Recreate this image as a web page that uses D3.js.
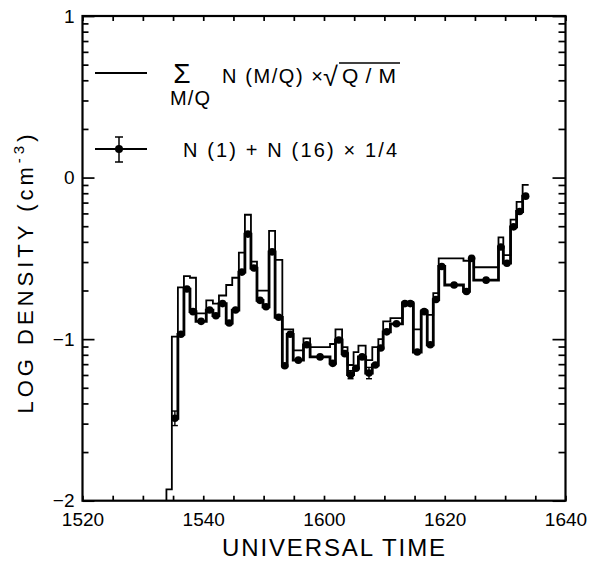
<!DOCTYPE html>
<html>
<head>
<meta charset="utf-8">
<script src="https://cdnjs.cloudflare.com/ajax/libs/d3/7.8.5/d3.min.js"></script>
<style>
  body { margin: 0; background: #fff; }
  svg text { font-family: "Liberation Sans", Arial, sans-serif; fill: #000; }
</style>
</head>
<body>
<script>
// time is in minutes after 15:00 UT (20 -> 1520, 100 -> 1640)
const xDomain = [20, 100];
const yDomain = [-2, 1];
const xTickLabels = [20, 40, 60, 80, 100];
const yTickLabels = [-2, -1, 0, 1];

// bin edges of the histogram steps (minutes after 15:00)
const binEdges = [33.9, 34.8, 35.8, 36.8, 37.8, 38.8, 40.5, 41.6, 42.6, 43.8,
  44.8, 45.9, 46.9, 47.9, 48.9, 49.9, 50.9, 51.9, 53.1, 53.9,
  54.9, 56.6, 57.7, 61.0, 61.9, 63.0, 63.9, 64.9, 65.7, 66.9,
  68.0, 69.0, 69.8, 71.0, 73.0, 73.8, 74.8, 76.1, 77.1, 78.1,
  79.0, 80.0, 83.1, 84.1, 84.8, 88.9, 89.7, 90.9, 91.9, 92.9, 93.9];

// log density, sum over M/Q of N(M/Q) x sqrt(Q/M)
const sumDensity = [-1.93, -0.985, -0.68, -0.61, -0.62, -0.84, -0.76, -0.78, -0.73, -0.665,
  -0.62, -0.465, -0.23, -0.52, -0.70, -0.70, -0.33, -0.51, -0.94, -0.94,
  -1.07, -0.995, -1.05, -1.03, -0.94, -1.05, -1.16, -1.08, -1.04, -1.13,
  -1.05, -1.0, -0.89, -0.87, -0.77, -0.77, -0.94, -0.82, -0.85, -0.715,
  -0.50, -0.50, -0.515, -0.50, -0.555, -0.37, -0.48, -0.26, -0.15, -0.045];

// log density, N(1) + N(16) x 1/4
const h1o16Density = [null, -1.49, -0.97, -0.69, -0.83, -0.89, -0.82, -0.855, -0.78, -0.90,
  -0.82, -0.585, -0.35, -0.56, -0.76, -0.80, -0.46, -0.865, -1.165, -0.97,
  -1.13, -1.035, -1.11, -1.15, -1.005, -1.09, -1.22, -1.18, -1.11, -1.21,
  -1.16, -1.055, -0.955, -0.905, -0.78, -0.78, -1.08, -0.83, -1.035, -0.755,
  -0.55, -0.665, -0.705, -0.50, -0.635, -0.43, -0.53, -0.305, -0.21, -0.115];

// error bars on a few of the points (bin index, half size in log units)
const errBin = [1, 26, 29];
const errHalf = [0.045, 0.025, 0.035];

const W = 592, H = 563;
const svg = d3.select('body').append('svg').attr('width', W).attr('height', H);

const x = d3.scaleLinear().domain(xDomain).range([82.5, 565.5]);
const y = d3.scaleLinear().domain(yDomain).range([500.7, 16]);

const hhmm = m => `${15 + Math.floor(m / 60)}${String(m % 60).padStart(2, '0')}`;

/*********************************************************/
// Axes (ticks point inward, frame drawn separately)

const minorY = [];
for (let dec = -2; dec < 1; dec++) {
  for (let k = 2; k <= 9; k++) minorY.push(dec + Math.log10(k));
}

const axisStyle = g => {
  g.select('.domain').remove();
  g.selectAll('line').attr('stroke', '#000').attr('stroke-width', 1.7);
  g.selectAll('text').style('font-size', '19px');
};

svg.append('g').attr('transform', `translate(0,${y(-2)})`)
  .call(d3.axisBottom(x).tickValues(d3.range(20, 101, 5)).tickSize(-5).tickPadding(12)
    .tickFormat(d => xTickLabels.includes(d) ? hhmm(d) : ''))
  .call(axisStyle);

svg.append('g').attr('transform', `translate(0,${y(1)})`)
  .call(d3.axisTop(x).tickValues(d3.range(20, 101, 5)).tickSize(-5).tickFormat(''))
  .call(axisStyle);

svg.append('g').attr('transform', `translate(${x(20)},0)`)
  .call(d3.axisLeft(y).tickValues(yTickLabels).tickSize(-12).tickPadding(8).tickFormat(d3.format('d')))
  .call(axisStyle);
svg.append('g').attr('transform', `translate(${x(20)},0)`)
  .call(d3.axisLeft(y).tickValues(minorY).tickSize(-6).tickFormat(''))
  .call(axisStyle);

svg.append('g').attr('transform', `translate(${x(100)},0)`)
  .call(d3.axisRight(y).tickValues(yTickLabels).tickSize(-13).tickFormat(''))
  .call(axisStyle);
svg.append('g').attr('transform', `translate(${x(100)},0)`)
  .call(d3.axisRight(y).tickValues(minorY).tickSize(-7).tickFormat(''))
  .call(axisStyle);

svg.append('rect')
  .attr('x', x(20)).attr('y', y(1))
  .attr('width', x(100) - x(20)).attr('height', y(-2) - y(1))
  .attr('fill', 'none').attr('stroke', '#000').attr('stroke-width', 2.2);

// axis titles
svg.append('text')
  .attr('x', 222).attr('y', 556)
  .attr('textLength', 223).attr('lengthAdjust', 'spacing')
  .style('font-size', '24px')
  .text('UNIVERSAL TIME');

const ylab = svg.append('text')
  .attr('transform', 'translate(33,272) rotate(-90)')
  .attr('text-anchor', 'middle')
  .style('font-size', '22px').style('letter-spacing', '4px');
ylab.append('tspan').text('LOG DENSITY (cm');
ylab.append('tspan').attr('dy', -9).style('font-size', '15px').text('-3');
ylab.append('tspan').attr('dy', 9).text(')');

/*********************************************************/
// Data: two step histograms

const plot = svg.append('g');

const stepLine = d3.line()
  .defined(d => d[1] != null)
  .x(d => x(d[0])).y(d => y(d[1]))
  .curve(d3.curveStepAfter);

const sumPts = [[binEdges[0], -2]].concat(sumDensity.map((v, i) => [binEdges[i], v]));
sumPts.push([binEdges[binEdges.length - 1], sumDensity[sumDensity.length - 1]]);

plot.append('path')
  .attr('d', stepLine(sumPts))
  .attr('fill', 'none').attr('stroke', '#000').attr('stroke-width', 1.8);

const dotPts = h1o16Density.map((v, i) => [binEdges[i], v]);
dotPts.push([binEdges[binEdges.length - 1], h1o16Density[h1o16Density.length - 1]]);

plot.append('path')
  .attr('d', stepLine(dotPts))
  .attr('fill', 'none').attr('stroke', '#000').attr('stroke-width', 2.8);

const dots = h1o16Density.map((v, i) => ({ t: (binEdges[i] + binEdges[i + 1]) / 2, v }))
  .filter(d => d.v != null);

plot.selectAll('circle.pt').data(dots).join('circle')
  .attr('class', 'pt')
  .attr('cx', d => x(d.t)).attr('cy', d => y(d.v)).attr('r', 3.8)
  .attr('fill', '#000');

errBin.forEach((b, i) => {
  const t = (binEdges[b] + binEdges[b + 1]) / 2, v = h1o16Density[b], e = errHalf[i];
  const g = plot.append('g').attr('stroke', '#000').attr('stroke-width', 1.4);
  g.append('line').attr('x1', x(t)).attr('x2', x(t)).attr('y1', y(v + e)).attr('y2', y(v - e));
  [v + e, v - e].forEach(yy => g.append('line')
    .attr('x1', x(t) - 3).attr('x2', x(t) + 3).attr('y1', y(yy)).attr('y2', y(yy)));
});

/*********************************************************/
// Legend

const leg = svg.append('g');
leg.append('line').attr('x1', 95).attr('x2', 147).attr('y1', 73).attr('y2', 73)
  .attr('stroke', '#000').attr('stroke-width', 1.8);
leg.append('text').attr('x', 182).attr('y', 83).attr('text-anchor', 'middle')
  .style('font-size', '28px').text('Σ');
leg.append('text').attr('x', 170).attr('y', 105)
  .attr('textLength', 40).attr('lengthAdjust', 'spacing')
  .style('font-size', '20px').text('M/Q');
leg.append('text').attr('x', 222).attr('y', 83)
  .attr('textLength', 101).attr('lengthAdjust', 'spacing')
  .style('font-size', '20px').text('N (M/Q) ×');
leg.append('text').attr('x', 323).attr('y', 86)
  .style('font-size', '27px').text('√');
leg.append('line').attr('x1', 339).attr('x2', 400).attr('y1', 63).attr('y2', 63)
  .attr('stroke', '#000').attr('stroke-width', 1.6);
leg.append('text').attr('x', 342).attr('y', 83)
  .attr('textLength', 54).attr('lengthAdjust', 'spacing')
  .style('font-size', '21px').text('Q/M');

leg.append('line').attr('x1', 95).attr('x2', 147).attr('y1', 149).attr('y2', 149)
  .attr('stroke', '#000').attr('stroke-width', 1.8);
leg.append('circle').attr('cx', 119).attr('cy', 149).attr('r', 4).attr('fill', '#000');
const eb = leg.append('g').attr('stroke', '#000').attr('stroke-width', 1.5);
eb.append('line').attr('x1', 119).attr('x2', 119).attr('y1', 137).attr('y2', 162);
eb.append('line').attr('x1', 115).attr('x2', 123).attr('y1', 137).attr('y2', 137);
eb.append('line').attr('x1', 115).attr('x2', 123).attr('y1', 162).attr('y2', 162);
leg.append('text').attr('x', 183).attr('y', 157)
  .attr('textLength', 214).attr('lengthAdjust', 'spacing')
  .style('font-size', '20px').text('N (1) + N (16) × 1/4');
</script>
</body>
</html>
